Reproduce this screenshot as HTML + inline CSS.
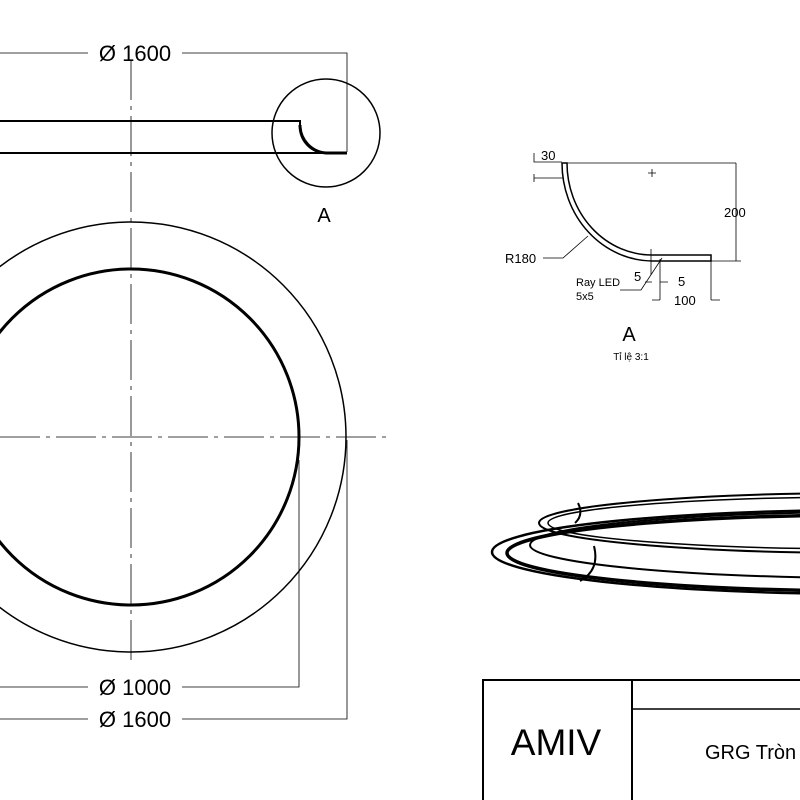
<!DOCTYPE html>
<html><head><style>
body{margin:0;background:#fff}
svg{display:block}
text{font-family:"Liberation Sans",sans-serif;fill:#000}
</style></head><body>
<svg width="800" height="800" viewBox="0 0 800 800" xmlns="http://www.w3.org/2000/svg">
<g fill="none" stroke="#000">
<line x1="131" y1="60" x2="131" y2="665" stroke-width="0.8" stroke-dasharray="40,6,4,6"/>
<line x1="0" y1="437" x2="392" y2="437" stroke-width="0.8" stroke-dasharray="40,6,4,6"/>
<circle cx="131" cy="437" r="215" stroke-width="1.5"/>
<circle cx="131" cy="437" r="168" stroke-width="3"/>
<path d="M0 121 H300 V127 A26 26 0 0 0 326 153 H0" stroke-width="2"/>
<path d="M300 125 A28 28 0 0 0 326 153 H347" stroke-width="3"/>
<circle cx="326" cy="133" r="54" stroke-width="1.5"/>
<path d="M0 53 H88 M182 53 H347 V152" stroke-width="0.8"/>
<path d="M0 687 H88 M182 687 H299 V460" stroke-width="0.8"/>
<path d="M0 719 H88 M182 719 H347 V440" stroke-width="0.8"/>
<path d="M562 163 H567 A85 92 0 0 0 652 255 H711 V261 H652 A91 98 0 0 1 562 163 Z" stroke-width="1.5"/>
<path d="M567 163 H736 M711 261 H741 M736 163 V261" stroke-width="0.8"/>
<path d="M648 173 H656 M652 169 V177" stroke-width="0.8"/>
<path d="M534 153 V162 H562 M534 178 H563 M534 174 V182" stroke-width="0.8"/>
<path d="M543 258 H563 L588 236" stroke-width="0.8"/>
<path d="M620 290 H641 L662 258" stroke-width="0.8"/>
<path d="M651 249 V275 M660 259 V300 M711 261 V300 M652 300 H660 M711 300 H720 M660 282 H668 M645 282 H652" stroke-width="0.8"/>
<!-- perspective -->
<ellipse cx="870" cy="552" rx="378" ry="42" stroke-width="2.5"/>
<ellipse cx="870" cy="553" rx="363" ry="38" stroke-width="3.5"/>
<ellipse cx="880" cy="545" rx="350" ry="33" stroke-width="2"/>
<ellipse cx="870" cy="523" rx="331" ry="30" stroke-width="2"/>
<ellipse cx="870" cy="523" rx="322" ry="26" stroke-width="1.5"/>
<path d="M578 503 Q584 515 575 523" stroke-width="2"/>
<path d="M594 546 Q600 570 580 581" stroke-width="2"/>
<rect x="483" y="680" width="330" height="130" stroke-width="2"/>
<line x1="632" y1="680" x2="632" y2="800" stroke-width="2"/>
<line x1="632" y1="709" x2="800" y2="709" stroke-width="1.5"/>
</g>
<text x="135" y="61" font-size="22" text-anchor="middle">Ø 1600</text>
<text x="135" y="695" font-size="22" text-anchor="middle">Ø 1000</text>
<text x="135" y="727" font-size="22" text-anchor="middle">Ø 1600</text>
<text x="324" y="222" font-size="20" text-anchor="middle">A</text>
<text x="541" y="160" font-size="13">30</text>
<text x="724" y="217" font-size="13">200</text>
<text x="505" y="263" font-size="13">R180</text>
<text x="576" y="286" font-size="11">Ray LED</text>
<text x="576" y="300" font-size="11">5x5</text>
<text x="634" y="281" font-size="13">5</text>
<text x="678" y="286" font-size="13">5</text>
<text x="674" y="305" font-size="13">100</text>
<text x="629" y="341" font-size="20" text-anchor="middle">A</text>
<text x="631" y="360" font-size="10" text-anchor="middle">Tỉ lệ 3:1</text>
<text x="556" y="755" font-size="37" text-anchor="middle">AMIV</text>
<text x="705" y="759" font-size="20">GRG Tròn</text>
</svg>
</body></html>
